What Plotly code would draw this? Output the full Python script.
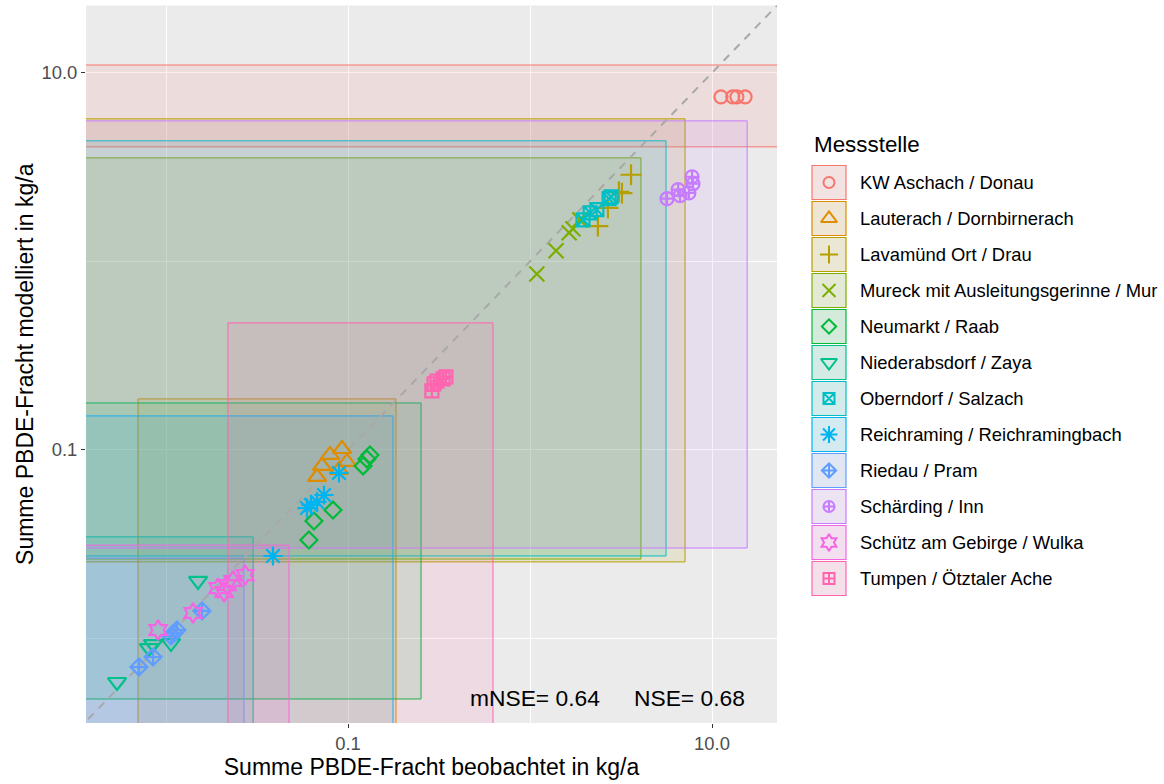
import plotly.graph_objects as go

# ---------------- data ----------------
stations = [
    "KW Aschach / Donau", "Lauterach / Dornbirnerach", "Lavamünd Ort / Drau",
    "Mureck mit Ausleitungsgerinne / Mur", "Neumarkt / Raab", "Niederabsdorf / Zaya",
    "Oberndorf / Salzach", "Reichraming / Reichramingbach", "Riedau / Pram",
    "Schärding / Inn", "Schütz am Gebirge / Wulka", "Tumpen / Ötztaler Ache",
]
colors = ["#F8766D", "#DE8C00", "#B79F00", "#7CAE00", "#00BA38", "#00C08B",
          "#00BFC4", "#00B4F0", "#619CFF", "#C77CFF", "#F564E3", "#FF64B0"]
symbols = ["circle-open", "triangle-up-open", "cross-thin-open", "x-thin-open",
           "diamond-open", "triangle-down-open", "square-x-open", "asterisk-open",
           "diamond-cross-open", "circle-cross-open", "hexagram-open", "square-cross-open"]
marker_sizes = [13, 16, 15, 15, 13, 16, 13, 16, 13, 13, 15, 13]

# observed (x) and modelled (y) loads in kg/a per station
obs_aschach = [11.2, 13.0, 13.7, 15.2]
mod_aschach = [7.46, 7.46, 7.46, 7.46]
obs_lauterach = [0.0927, 0.0796, 0.0987, 0.0720, 0.0892, 0.0676]
mod_lauterach = [0.1012, 0.0941, 0.0864, 0.0823, 0.0783, 0.0719]
obs_lavamuend = [3.59, 3.08, 3.20, 2.68, 2.36]
mod_lavamuend = [2.88, 2.34, 2.30, 1.92, 1.54]
obs_mureck = [1.09, 1.39, 1.64, 1.72, 1.88]
mod_mureck = [0.858, 1.14, 1.42, 1.49, 1.66]
obs_neumarkt = [0.132, 0.127, 0.121, 0.0827, 0.065, 0.061]
mod_neumarkt = [0.0941, 0.0896, 0.0823, 0.048, 0.042, 0.0333]
obs_niederabsdorf = [0.0150, 0.00849, 0.00806, 0.01065, 0.00538]
mod_niederabsdorf = [0.0202, 0.00935, 0.0089, 0.00946, 0.00588]
obs_oberndorf = [1.955, 2.14, 2.33, 2.72, 2.79]
mod_oberndorf = [1.66, 1.81, 1.88, 2.15, 2.20]
obs_reichraming = [0.0892, 0.0738, 0.0676, 0.0626, 0.0595, 0.0387]
mod_reichraming = [0.0755, 0.0577, 0.0530, 0.0511, 0.0492, 0.0274]
obs_riedau = [0.01577, 0.01149, 0.01106, 0.01065, 0.00849, 0.0071]
mod_riedau = [0.0140, 0.0111, 0.0107, 0.0103, 0.00798, 0.00706]
obs_schaerding = [5.66, 6.51, 6.67, 7.47, 7.77, 7.86]
mod_schaerding = [2.15, 2.40, 2.23, 2.31, 2.81, 2.58]
obs_schuetz = [0.0272, 0.02334, 0.02164, 0.0193, 0.02083, 0.01407, 0.00904]
mod_schuetz = [0.0217, 0.0202, 0.0192, 0.0185, 0.01765, 0.01366, 0.0111]
obs_tumpen = [0.289, 0.297, 0.308, 0.333, 0.345]
mod_tumpen = [0.2056, 0.224, 0.232, 0.238, 0.244]

obs_all = [obs_aschach, obs_lauterach, obs_lavamuend, obs_mureck, obs_neumarkt,
           obs_niederabsdorf, obs_oberndorf, obs_reichraming, obs_riedau,
           obs_schaerding, obs_schuetz, obs_tumpen]
mod_all = [mod_aschach, mod_lauterach, mod_lavamuend, mod_mureck, mod_neumarkt,
           mod_niederabsdorf, mod_oberndorf, mod_reichraming, mod_riedau,
           mod_schaerding, mod_schuetz, mod_tumpen]

# uncertainty rectangles (values beyond the visible range are open-ended)
rect_xmin = [1e-3, 0.00702, 1e-3, 1e-3, 1e-3, 1e-3, 1e-3, 1e-3, 1e-3, 1e-3, 1e-3, 0.0219]
rect_xmax = [100.0, 0.1835, 7.11, 4.07, 0.252, 0.0301, 5.59, 0.1767, 0.0268, 15.6, 0.0474, 0.626]
rect_ymin = [4.05, 1e-3, 0.0255, 0.0264, 0.00478, 1e-3, 0.0274, 1e-3, 1e-3, 0.0302, 1e-3, 1e-3]
rect_ymax = [11.0, 0.1865, 5.70, 3.54, 0.1775, 0.0346, 4.36, 0.1515, 0.0267, 5.56, 0.0313, 0.472]

identity_line = [1e-3, 100.0]

tick_vals = [0.1, 10.0]
tick_text = ["0.1", "10.0"]
minor_vals = [0.01, 1.0]

mnse_text = "mNSE= 0.64"
nse_text = "NSE= 0.68"

# ---------------- figure ----------------
FONT = "Liberation Sans, Arial, sans-serif"
W, H = 1164, 784


def rgba(hex_color, a):
    h = hex_color.lstrip("#")
    return "rgba(%d,%d,%d,%s)" % (int(h[0:2], 16), int(h[2:4], 16), int(h[4:6], 16), a)


fig = go.Figure()

# rectangles
for i, name in enumerate(stations):
    x0, x1, y0, y1 = rect_xmin[i], rect_xmax[i], rect_ymin[i], rect_ymax[i]
    fig.add_trace(go.Scatter(
        x=[x0, x1, x1, x0, x0], y=[y0, y0, y1, y1, y0],
        mode="lines", fill="toself", fillcolor=rgba(colors[i], 0.12),
        line=dict(color=colors[i], width=1), hoverinfo="skip", showlegend=False,
        xaxis="x", yaxis="y"))

# 1:1 line
fig.add_trace(go.Scatter(
    x=identity_line, y=identity_line, mode="lines",
    line=dict(color="#A8A8A8", width=2, dash="8px,7px"),
    hoverinfo="skip", showlegend=False))

# points
for i, name in enumerate(stations):
    fig.add_trace(go.Scatter(
        x=obs_all[i], y=mod_all[i], mode="markers", name=name,
        marker=dict(symbol=symbols[i], size=marker_sizes[i], color=colors[i],
                    line=dict(color=colors[i], width=2.2)),
        showlegend=False))

# ---- manual ggplot-style legend on a helper axis (pixel units) ----
key_x0, key_x1 = 812, 846
key_cy0, key_step, key_h = 182.5, 36, 34
shapes = [
    # grey panel background
    dict(type="rect", xref="x domain", yref="y domain", x0=0, x1=1, y0=0, y1=1,
         fillcolor="#EBEBEB", line=dict(width=0), layer="below"),
]
annotations = []
for i, name in enumerate(stations):
    cy = key_cy0 + i * key_step
    shapes.append(dict(type="rect", xref="x2", yref="y2", x0=key_x0, x1=key_x1,
                       y0=cy - key_h / 2, y1=cy + key_h / 2,
                       fillcolor="#F2F2F2", line=dict(width=0), layer="below"))
    shapes.append(dict(type="rect", xref="x2", yref="y2", x0=key_x0, x1=key_x1,
                       y0=cy - key_h / 2, y1=cy + key_h / 2,
                       fillcolor=rgba(colors[i], 0.12),
                       line=dict(color=colors[i], width=1.2), layer="below"))
    annotations.append(dict(xref="x2", yref="y2", x=858, y=cy, text=name,
                            showarrow=False, xanchor="left", yanchor="middle",
                            font=dict(family=FONT, size=18.4, color="black")))
    fig.add_trace(go.Scatter(
        x=[(key_x0 + key_x1) / 2], y=[cy], mode="markers", xaxis="x2", yaxis="y2",
        marker=dict(symbol=symbols[i], size=marker_sizes[i] - 2, color=colors[i],
                    line=dict(color=colors[i], width=2)),
        hoverinfo="skip", showlegend=False))

annotations.append(dict(xref="x2", yref="y2", x=812, y=144, text="Messstelle",
                        showarrow=False, xanchor="left", yanchor="middle",
                        font=dict(family=FONT, size=22.4, color="black")))

# NSE annotations
annotations.append(dict(xref="x domain", yref="y domain", x=0.6498, y=0.035,
                        text=mnse_text, showarrow=False, xanchor="center", yanchor="middle",
                        font=dict(family=FONT, size=22.8, color="black")))
annotations.append(dict(xref="x domain", yref="y domain", x=0.8734, y=0.035,
                        text=nse_text, showarrow=False, xanchor="center", yanchor="middle",
                        font=dict(family=FONT, size=22.8, color="black")))

axis_common = dict(
    type="log", tickvals=tick_vals, ticktext=tick_text, automargin=False,
    showgrid=True, gridcolor="white", gridwidth=1.4, zeroline=False, showline=False,
    ticks="outside", ticklen=4, tickwidth=1, tickcolor="#333333",
    tickfont=dict(family=FONT, size=18.4, color="#4D4D4D"),
    minor=dict(tickvals=minor_vals, showgrid=True, gridcolor="white", gridwidth=0.7, ticks=""),
)

fig.update_layout(
    width=W, height=H,
    margin=dict(l=0, r=0, t=0, b=0),
    paper_bgcolor="white", plot_bgcolor="white",
    showlegend=False,
    font=dict(family=FONT),
    xaxis=dict(domain=[86 / W, 777 / W], range=[-2.4396, 1.3571], anchor="y",
               title=dict(text="Summe PBDE-Fracht beobachtet in kg/a",
                          font=dict(family=FONT, size=23, color="black"), standoff=4),
               **axis_common),
    yaxis=dict(domain=[1 - 723 / H, 1 - 5.5 / H], range=[-2.448, 1.357], anchor="x",
               title=dict(text="Summe PBDE-Fracht modelliert in kg/a",
                          font=dict(family=FONT, size=23, color="black"), standoff=1),
               **axis_common),
    xaxis2=dict(domain=[800 / W, 1.0], range=[800, 1164], anchor="y2", visible=False),
    yaxis2=dict(domain=[0.0, 1.0], range=[784, 0], anchor="x2", visible=False),
    shapes=shapes,
    annotations=annotations,
)

fig.write_html(
    "out.html",
    config={"displayModeBar": False},
    post_script="document.body.style.margin='0px';document.body.style.overflow='hidden';",
)
